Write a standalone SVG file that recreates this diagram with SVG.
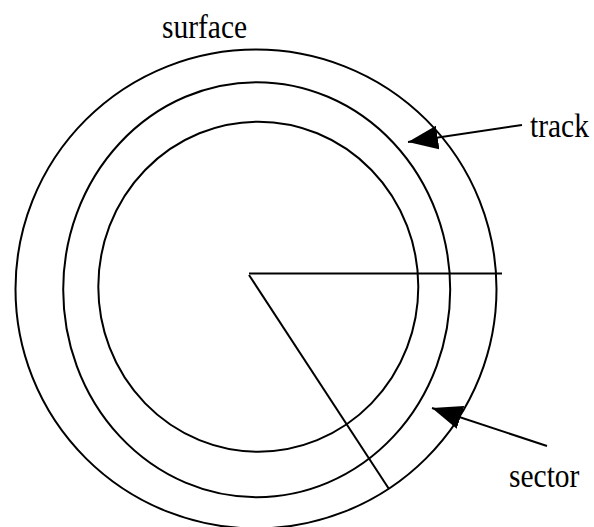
<svg xmlns="http://www.w3.org/2000/svg" width="594" height="527" viewBox="0 0 594 527">
  <style>
    .ring { fill: none; stroke: #000; stroke-width: 2; }
    .edge { fill: none; stroke: #000; stroke-width: 2; }
    .lbl { font-family: "Liberation Serif", "Times New Roman", serif; font-size: 29.5px; fill: #000; }
  </style>
  <defs>
    <marker id="arrow" markerUnits="userSpaceOnUse" markerWidth="32" markerHeight="26" viewBox="0 -13 32 26" refX="30" refY="0" orient="auto">
      <path d="M0,-12 L30,0 L0,12 Z" fill="#000"/>
    </marker>
  </defs>
  <rect width="594" height="527" fill="#fff"/>
  <g id="disk">
    <ellipse id="outer" class="ring" cx="256" cy="289" rx="240.5" ry="239.5"/>
    <ellipse id="middle" class="ring" cx="256.7" cy="289.7" rx="193.5" ry="207.5"/>
    <ellipse id="inner" class="ring" cx="258.3" cy="286.7" rx="160" ry="165"/>
    <line class="edge" x1="249" y1="273.5" x2="502" y2="273.5"/>
    <line class="edge" x1="249" y1="275" x2="389" y2="489"/>
  </g>
  <g id="surface-label">
    <text class="lbl" transform="translate(162,38) scale(1,1.12)">surface</text>
  </g>
  <g id="track-label">
    <text class="lbl" transform="translate(530,137) scale(1,1.12)">track</text>
  </g>
  <g id="sector-label">
    <text class="lbl" transform="translate(509,487) scale(1,1.12)">sector</text>
  </g>
  <g id="connectors">
    <line class="edge" x1="522" y1="125" x2="408" y2="142" marker-end="url(#arrow)"/>
    <line class="edge" x1="547" y1="446" x2="432" y2="408" marker-end="url(#arrow)"/>
  </g>
</svg>
